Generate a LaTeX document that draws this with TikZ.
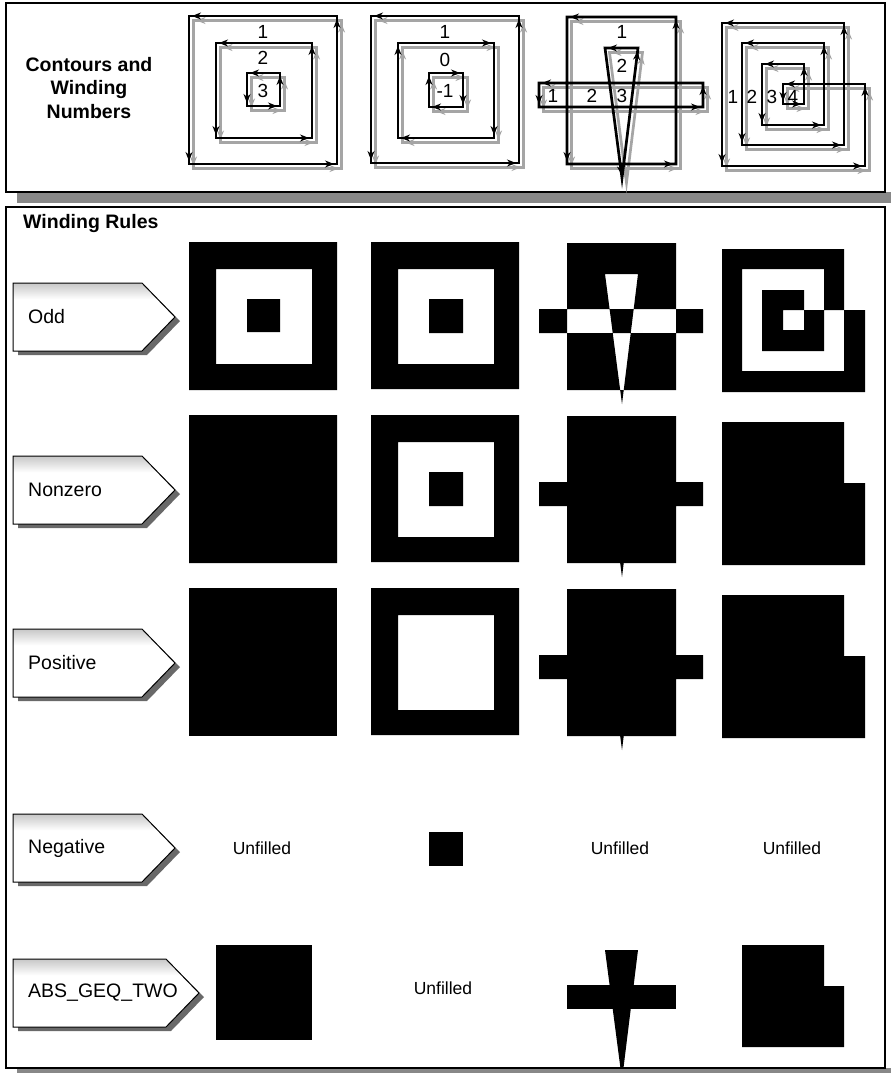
\documentclass[tikz,border=0pt]{standalone}
\usepackage{fontspec}
\setmainfont{Liberation Sans}
\usetikzlibrary{arrows.meta,calc,decorations.pathreplacing}
\definecolor{shadowgray}{RGB}{136,136,136}
\definecolor{tabshadow}{RGB}{105,105,105}
\definecolor{contourgray}{RGB}{165,165,165}
\pgfdeclareverticalshading{tabshade}{100bp}{color(0bp)=(white); color(63bp)=(white); color(75bp)=(black!22); color(100bp)=(black!22)}

% contour paths, one per column
\newcommand{\squaresA}{(337,16) -- (189,16) -- (189,164) -- (337,164) -- cycle
  (312,43) -- (216,43) -- (216,138) -- (312,138) -- cycle
  (280,73) -- (247,73) -- (247,106) -- (280,106) -- cycle}
\newcommand{\squaresB}{(519,16) -- (371,16) -- (371,163) -- (519,163) -- cycle
  (398,43) -- (494,43) -- (494,138) -- (398,138) -- cycle
  (429,73) -- (463,73) -- (463,107) -- (429,107) -- cycle}
\newcommand{\crossC}{(676,17) -- (567,17) -- (567,164) -- (676,164) -- cycle
  (703,83) -- (539,83) -- (539,107) -- (703,107) -- cycle
  (638,48) -- (605,48) -- (622,178) -- cycle}
\newcommand{\spiralD}{(804,104) -- (804,64) -- (762,64) -- (762,125) -- (824,125)
  -- (824,43) -- (742,43) -- (742,145) -- (844,145) -- (844,23) -- (722,23)
  -- (722,166) -- (865,166) -- (865,84) -- (783,84) -- (783,104) -- cycle}

\begin{document}
\begin{tikzpicture}[
    x=1pt, y=-1pt,
    panel/.style={draw=black, line width=1.2pt, fill=white},
    tab/.style={draw=black, line width=1pt, shading=tabshade},
    title/.style={font=\fontsize{19.5}{23.5}\selectfont\bfseries, align=center},
    rulename/.style={font=\fontsize{19.5}{22}\selectfont, anchor=west, inner sep=0pt},
    unfilled/.style={font=\fontsize{17.5}{20}\selectfont},
    num/.style={font=\fontsize{19}{20}\selectfont, inner sep=0pt},
    tip/.style={line width=1.6pt, -{Stealth[length=9pt,width=7pt]}},
    wind/.style={line width=2.7pt, draw=#1, line join=miter,
      postaction={decorate, decoration={show path construction,
        lineto code={\draw[tip, #1] ($(\tikzinputsegmentlast)!12pt!(\tikzinputsegmentfirst)$) -- ($(\tikzinputsegmentlast)!3pt!(\tikzinputsegmentfirst)$);},
        closepath code={\draw[tip, #1] ($(\tikzinputsegmentlast)!12pt!(\tikzinputsegmentfirst)$) -- ($(\tikzinputsegmentlast)!3pt!(\tikzinputsegmentfirst)$);}}}}
]
\useasboundingbox (0,0) rectangle (891,1073);

% panels with their shadows
\fill[shadowgray] (17,192) rectangle (891,203);
\draw[panel] (6,3) rectangle (885,192);
\fill[shadowgray] (17,1068) rectangle (891,1079);
\draw[panel] (6,207) rectangle (885,1068);

\node[title] (contours) at (89,88) {Contours and\\Winding\\Numbers};
\node[title, anchor=west, inner sep=0pt] (rules) at (23,223) {Winding Rules};

% contours: gray copy first, then black
\begin{scope}[shift={(4.5,4.5)}]
  \draw[wind=contourgray] \squaresA;
  \draw[wind=contourgray] \squaresB;
  \draw[wind=contourgray] \crossC;
  \draw[wind=contourgray] \spiralD;
\end{scope}
\draw[wind=black] \squaresA;
\draw[wind=black] \squaresB;
\draw[wind=black] \crossC;
\draw[wind=black] \spiralD;

\node[num] (a1) at (263,32) {1};
\node[num] (a2) at (263,58) {2};
\node[num] (a3) at (263,91) {3};
\node[num] (b1) at (445,32) {1};
\node[num] (b0) at (445,60) {0};
\node[num] (bm) at (445,91) {-1};
\node[num] (c1) at (622,32) {1};
\node[num] (c2) at (622,66) {2};
\node[num] (c3l) at (553,96) {1};
\node[num] (c3m) at (592,96) {2};
\node[num] (c3r) at (622,96) {3};
\node[num] (d1) at (733,97) {1};
\node[num] (d2) at (752,97) {2};
\node[num] (d3) at (772,97) {3};
\node[num] (d4) at (793,97) {4};

% rule tabs
\foreach \name/\y/\tipx/\txt in {odd/317/175/Odd, nonzero/490/175/Nonzero,
    positive/663/175/Positive, negative/848/175/Negative, absgeq/993/199/ABS\_GEQ\_TWO} {
  \fill[tabshadow] (18,\y-29) -- (\tipx-28,\y-29) -- (\tipx+5,\y+4) -- (\tipx-28,\y+38) -- (18,\y+38) -- cycle;
  \draw[tab] (13,\y-34) -- (\tipx-33,\y-34) -- (\tipx,\y) -- (\tipx-33,\y+34) -- (13,\y+34) -- cycle;
  \node[rulename] (\name) at (28,\y) {\txt};
}

% Odd
\begin{scope}[shift={(0,226)}]
  \fill[even odd rule] \squaresA;
  \fill[even odd rule] \squaresB;
  \fill[even odd rule] \crossC;
  \fill[even odd rule] \spiralD;
\end{scope}

% Nonzero
\begin{scope}[shift={(0,399)}]
  \fill[nonzero rule] \squaresA;
  \fill[nonzero rule] \squaresB;
  \fill[nonzero rule] \crossC;
  \fill[nonzero rule] \spiralD;
\end{scope}

% Positive
\begin{scope}[shift={(0,572)}]
  \fill (189,16) rectangle (337,164);
  \fill[even odd rule] (371,16) rectangle (519,163) (398,43) rectangle (494,138);
  \fill[nonzero rule] \crossC;
  \fill[nonzero rule] \spiralD;
\end{scope}

% Negative
\begin{scope}[shift={(0,759)}]
  \fill (429,73) rectangle (463,107);
\end{scope}
\node[unfilled] (neg1) at (262,848) {Unfilled};
\node[unfilled] (neg3) at (620,848) {Unfilled};
\node[unfilled] (neg4) at (792,848) {Unfilled};

% ABS_GEQ_TWO
\begin{scope}[shift={(0,902)}]
  \fill (216,43) rectangle (312,138);
  \fill (567,83) rectangle (676,107);
  \begin{scope}
    \clip (567,17) rectangle (676,164);
    \fill (638,48) -- (605,48) -- (622,178) -- cycle;
  \end{scope}
  \fill (742,43) -- (824,43) -- (824,84) -- (844,84) -- (844,145) -- (742,145) -- cycle;
\end{scope}
\node[unfilled] (abs2) at (443,988) {Unfilled};

\end{tikzpicture}
\end{document}
